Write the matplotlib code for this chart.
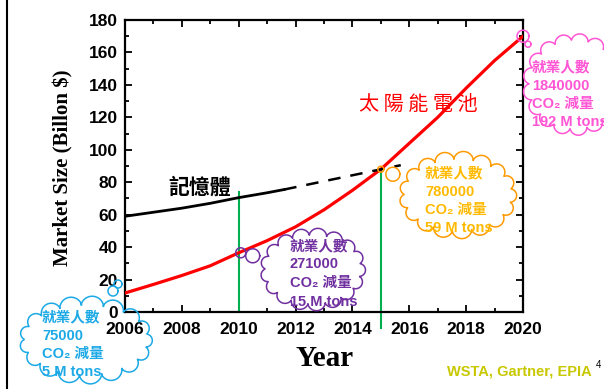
import numpy as np
import matplotlib
matplotlib.use("Agg")
import matplotlib.pyplot as plt
from matplotlib.lines import Line2D
from matplotlib.ticker import MultipleLocator

# solar cell market (billion $)
solar_years = [2006, 2007, 2008, 2009, 2010, 2011, 2012, 2013, 2014, 2015, 2016, 2017, 2018, 2019, 2020]
solar_size = [11.7, 17, 22.5, 28.5, 36.5, 44, 52.5, 63, 75, 88, 104, 120, 138, 155, 170]

# memory market, measured then projected
mem_years = [2006, 2007, 2008, 2009, 2010, 2011, 2011.6]
mem_size = [59, 61.5, 64, 67, 70.5, 73.5, 75.5]
mem_proj_years = [2011.6, 2015.7]
mem_proj_size = [75.5, 90.5]

# jobs / CO2 callouts per milestone year
call_years = [2006, 2010, 2015, 2020]
call_jobs = ["75000", "271000", "780000", "1840000"]
call_co2 = ["5 M tons", "15 M tons", "59 M tons", "192 M tons"]
call_colors = ["#1CA9E6", "#7030A0", "#FFBA00", "#FF55D4"]
call_edge = ["#1CA9E6", "#7030A0", "#FF9A00", "#FF55D4"]
# cloud box (x0, y0, x1, y1) in pixels from top-left, and text anchor
call_box = [(17, 298, 155, 382), (258, 228, 368, 311), (397, 152, 519, 238), (522, 33, 628, 136)]
call_text = [(42, 317), (290, 246), (425, 173), (532, 67)]
# thought-bubble trail offsets from the data point (dx, dy, r)
call_trail = [
    [(-7, -9, 4), (-12, -2, 5)],
    [(2, 0, 5), (14, 3, 7)],
    [(0, 0, 3), (12, 5, 7)],
    [(0, 0, 6), (5, 8, 3)],
]

W, H = 604, 389
fig = plt.figure(figsize=(W / 100, H / 100), dpi=100)
ax = fig.add_axes([125 / W, 1 - 312 / H, 398 / W, 292 / H])

ax.plot(solar_years, solar_size, color="red", lw=2.3, solid_capstyle="round", zorder=3)
ax.plot(mem_years, mem_size, color="black", lw=2.0, zorder=3)
ax.plot(mem_proj_years, mem_proj_size, color="black", lw=1.8, dashes=(5, 4), zorder=3)

# green markers from the axis up to the curves
ax.plot([2010, 2010], [0, 74], color="#00B050", lw=1.5, zorder=2)
ax.plot([2015, 2015], [-10, 88], color="#00B050", lw=1.5, zorder=2, clip_on=False)

ax.set_xlim(2006, 2020)
ax.set_ylim(0, 180)
ax.xaxis.set_major_locator(MultipleLocator(2))
ax.xaxis.set_minor_locator(MultipleLocator(1))
ax.yaxis.set_major_locator(MultipleLocator(20))
ax.yaxis.set_minor_locator(MultipleLocator(10))
ax.tick_params(which="both", direction="in", top=True, right=True, width=1.3)
ax.tick_params(which="major", length=5)
ax.tick_params(which="minor", length=3)
ax.tick_params(axis="x", pad=7)
ax.tick_params(axis="y", pad=5)
for s in ax.spines.values():
    s.set_linewidth(1.6)
for lab in ax.get_xticklabels() + ax.get_yticklabels():
    lab.set_fontfamily("Liberation Sans")
    lab.set_fontweight("bold")
    lab.set_fontsize(12.5)

fig.text(63 / W, 1 - 168 / H, "Market Size (Billon $)", rotation=90, ha="center", va="center",
         family="Liberation Serif", weight="bold", fontsize=15)
fig.text(325 / W, 1 - 358 / H, "Year", ha="center", va="center",
         family="Liberation Serif", weight="bold", fontsize=21)

cjk = ["Liberation Sans", "DejaVu Sans", "Noto Sans CJK TC"]
fig.text(418 / W, 1 - 104 / H, "太 陽 能 電 池", ha="center", va="center", color="red",
         family=["Noto Sans CJK TC"], fontsize=14.5)
fig.text(200 / W, 1 - 187 / H, "記憶體", ha="center", va="center", color="black",
         family=["Noto Sans CJK TC"], weight="bold", fontsize=15)

fig.text(592 / W, 1 - 372 / H, "WSTA, Gartner, EPIA", ha="right", va="center", color="#C8C800",
         family=cjk, weight="bold", fontsize=10.5)
fig.text(596 / W, 1 - 365 / H, "4", ha="left", va="center", color="black",
         family="Liberation Sans", fontsize=7)

# page border on the left
fig.add_artist(Line2D([7 / W, 7 / W], [0, 1], color="black", lw=1.5, transform=fig.transFigure))


def to_fig(x, y):
    return np.asarray(x) / W, 1 - np.asarray(y) / H


def ring(x, y, r, color):
    t = np.linspace(0, 2 * np.pi, 60)
    fx, fy = to_fig(x + r * np.cos(t), y + r * np.sin(t))
    fig.add_artist(Line2D(fx, fy, color=color, lw=1.1, transform=fig.transFigure))


def cloud(box, color, n=17):
    # scalloped outline: shallow outward arcs between points on an ellipse
    x0, y0, x1, y1 = box
    cx, cy = (x0 + x1) / 2, (y0 + y1) / 2
    bump = 7
    a, b = (x1 - x0) / 2 - bump, (y1 - y0) / 2 - bump
    t = np.linspace(0, 2 * np.pi, n + 1) + 0.2
    px, py = cx + a * np.cos(t), cy + b * np.sin(t)
    xs, ys = [], []
    for i in range(n):
        p0 = np.array([px[i], py[i]])
        p1 = np.array([px[i + 1], py[i + 1]])
        c = np.hypot(*(p1 - p0))
        h = 0.42 * c
        R = (c * c / 4 + h * h) / (2 * h)
        mid = (p0 + p1) / 2
        out = mid - np.array([cx, cy])
        out = out / np.hypot(*out)
        cen = mid - out * (R - h)
        a0 = np.arctan2(p0[1] - cen[1], p0[0] - cen[0])
        a1 = np.arctan2(p1[1] - cen[1], p1[0] - cen[0])
        # sweep through the outer side of the arc
        am = np.arctan2(out[1], out[0])
        d0 = (a0 - am + np.pi) % (2 * np.pi) - np.pi
        d1 = (a1 - am + np.pi) % (2 * np.pi) - np.pi
        s = am + np.linspace(d0, d1, 25)
        xs.extend(cen[0] + R * np.cos(s))
        ys.extend(cen[1] + R * np.sin(s))
    xs.append(xs[0])
    ys.append(ys[0])
    fx, fy = to_fig(xs, ys)
    fig.add_artist(Line2D(fx, fy, color=color, lw=1.1, transform=fig.transFigure))


for i, yr in enumerate(call_years):
    val = solar_size[solar_years.index(yr)]
    dx, dy = ax.transData.transform((yr, val))
    px, py = dx, H - dy
    for ox, oy, r in call_trail[i]:
        ring(px + ox, py + oy, r, call_edge[i])
    cloud(call_box[i], call_edge[i])
    tx, ty = call_text[i]
    lines = ["就業人數", call_jobs[i], "CO₂ 減量", call_co2[i]]
    for k, line in enumerate(lines):
        fig.text(tx / W, 1 - (ty + k * 18.5) / H, line, ha="left", va="center",
                 color=call_colors[i], family=cjk, weight="bold", fontsize=10.5)

fig.savefig("out.png", dpi=100)
